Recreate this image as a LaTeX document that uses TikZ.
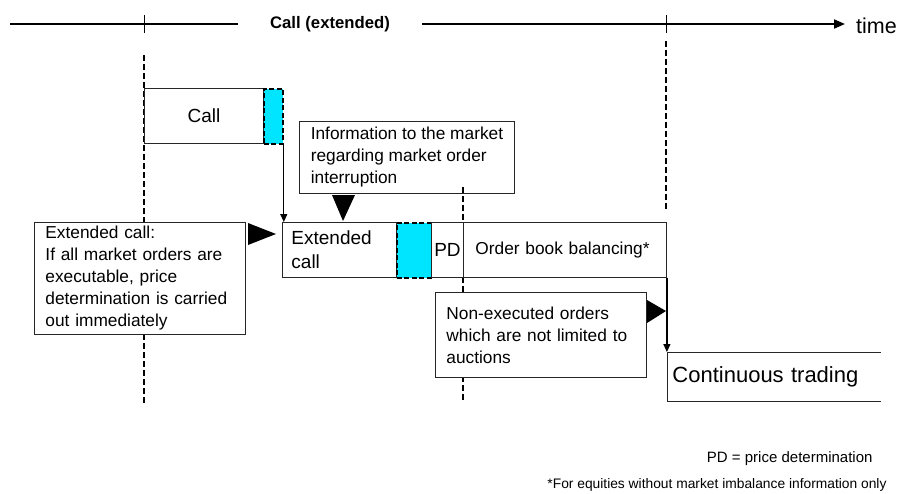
\documentclass[tikz,border=0pt]{standalone}
\usepackage{fontspec}
\setmainfont{Liberation Sans}
\usetikzlibrary{positioning}
\usetikzlibrary{math}
\usetikzlibrary{arrows.meta}
\definecolor{boxcyan}{RGB}{0,229,255}
\hyphenpenalty=10000
\tikzset{textbox/.style={draw=black!85, line width=0.9pt, fill=white, anchor=north west, inner ysep=0pt, inner xsep=0pt},
	normaltxt/.style={font=\fontsize{17.3}{22}\selectfont},
	bigtxt/.style={font=\fontsize{19}{24}\selectfont},
	cyanbox/.style={draw=black, fill=boxcyan, line width=1.8pt, dash pattern=on 5pt off 2.5pt, anchor=north west, inner sep=0pt},
	vdashed/.style={line width=1.8pt, dash pattern=on 6pt off 3pt},
	downarrow/.style={line width=1.2pt, -{Triangle[length=8pt,width=7pt]}},
	timeaxis/.style={line width=1.8pt}}

\begin{document}
\begin{tikzpicture}[x=1pt,y=-1pt]
	\useasboundingbox (0,0) rectangle (901,493);
	\tikzmath{\xa=144; \xb=463; \xc=666; \ty=24;}
	% time axis
	\coordinate (tstart) at (10,\ty);
	\node[inner xsep=32pt, font=\fontsize{16.7}{20}\selectfont\bfseries] (callext) at (330,\ty) {Call (extended)};
	\node[anchor=west, inner xsep=11pt, font=\fontsize{21.5}{26}\selectfont] (timelbl) at (845,26) {time};
	\draw[timeaxis] (tstart) -- (callext.west);
	\draw[timeaxis, -{Triangle[length=11pt,width=9pt]}] (callext.east) -- (callext.east -| timelbl.west);
	\draw[line width=0.9pt] (\xa,15) -- (\xa,33) (\xc,15) -- (\xc,33);
	% phase borders
	\draw[vdashed] (\xa,55) -- (\xa,405);
	\draw[vdashed] (\xc,41) -- (\xc,209);
	% boxes
	\node[textbox, bigtxt, minimum width=119pt, minimum height=55pt] (call) at (\xa,88) {Call};
	\node[cyanbox, minimum width=19pt, minimum height=55pt] (c1) at (263,88) {};
	\node[textbox, normaltxt, minimum width=215pt, minimum height=72pt, align=left] (info) at (299,121) {Information to the market\\regarding market order\\interruption};
	\draw[vdashed] (\xb,187) -- (\xb,400);
	\node[textbox, normaltxt, text width=189pt, inner xsep=11pt, minimum height=112pt, align=left] (extleft) at (34,222) {Extended call:\\If all market orders are\\executable, price\\determination is carried\\out immediately};
	\node[textbox, bigtxt, text width=96pt, inner xsep=9pt, minimum height=55pt, align=left] (extcall) at (282,222) {Extended\\call};
	\node[cyanbox, minimum width=35pt, minimum height=55pt] (c2) at (396,222) {};
	\node[textbox, bigtxt, minimum width=32pt, minimum height=55pt] (pd) at (431,222) {PD};
	\node[textbox, normaltxt, text width=179pt, inner xsep=12pt, minimum height=55pt, align=left] (book) at (\xb,222) {Order book balancing*};
	\node[textbox, normaltxt, text width=189pt, inner xsep=11pt, minimum height=85pt, align=left] (nonexec) at (435,292) {Non-executed orders\\which are not limited to\\auctions};
	\node[textbox, draw=none, font=\fontsize{22}{26}\selectfont, text width=203pt, inner xsep=5pt, minimum height=49pt, align=left] (cont) at (667,352) {Continuous trading};
	\draw[draw=black!85, line width=0.9pt] (cont.north east) -- (cont.north west) -- (cont.south west) -- (cont.south east);
	% pointers
	\fill (248,223) -- (276,234) -- (248,245) -- cycle;
	\fill (332,195) -- (343,221) -- (355,195) -- cycle;
	\fill (647,300) -- (666,311) -- (647,323) -- cycle;
	% arrows
	\draw[downarrow] (c1.south east) -- (c1.south east |- extcall.north);
	\draw[downarrow] (book.south east) -- (book.south east |- cont.north);
	% notes
	\node[anchor=east, font=\fontsize{15}{18}\selectfont] (pdnote) at (876,459) {PD = price determination};
	\node[anchor=east, font=\fontsize{13.8}{17}\selectfont] (starnote) at (890,485) {*For equities without market imbalance information only};
\end{tikzpicture}
\end{document}
